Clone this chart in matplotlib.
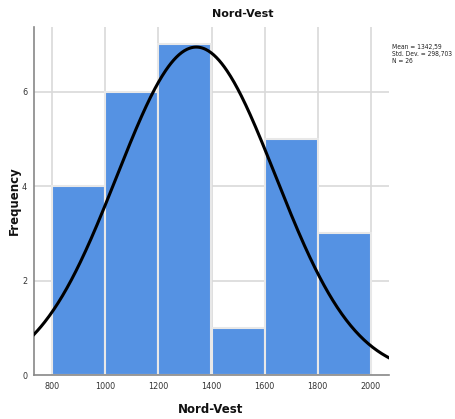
import numpy as np
import matplotlib
matplotlib.use("Agg")
import matplotlib.pyplot as plt
from matplotlib import font_manager

bin_edges = [800, 1000, 1200, 1400, 1600, 1800, 2000]
counts = [4, 6, 7, 1, 5, 3]
mean = 1342.59
std = 298.703
n = 26
xticks = [800, 1000, 1200, 1400, 1600, 1800, 2000]
yticks = [0, 2, 4, 6]

names = {f.name for f in font_manager.fontManager.ttflist}
narrow = "Liberation Sans Narrow" if "Liberation Sans Narrow" in names else "DejaVu Sans"

fig = plt.figure(figsize=(4.55, 4.19), dpi=100)
ax = fig.add_axes([34/455, 1-375/419, (389-34)/455, (375-27)/419])

xmin, xmax = 732, 2068
ax.set_xlim(xmin, xmax)
ax.set_ylim(0, 7.37)

for x in xticks:
    ax.axvline(x, color="#d9d9d9", lw=1.2, zorder=0)
for y in yticks[1:]:
    ax.axhline(y, color="#d9d9d9", lw=1.2, zorder=0)

widths = np.diff(bin_edges)
ax.bar(bin_edges[:-1], counts, width=widths, align="edge", color="#5592e3",
       edgecolor="#e8e8e8", linewidth=1.5, zorder=2)

xs = np.linspace(xmin, xmax, 400)
bw = 200
ys = n * bw / (std * np.sqrt(2*np.pi)) * np.exp(-0.5*((xs-mean)/std)**2)
ax.plot(xs, ys, color="black", lw=2.2, zorder=3)

ax.set_xticks(xticks)
ax.set_yticks(yticks)
ax.tick_params(axis="both", length=0, pad=5, colors="#333333")
for lab in ax.get_xticklabels() + ax.get_yticklabels():
    lab.set_fontfamily(narrow)
    lab.set_fontsize(6.5)
    lab.set_fontstretch("condensed")
for s in ["top", "right"]:
    ax.spines[s].set_visible(False)
for s in ["left", "bottom"]:
    ax.spines[s].set_color("#888888")
    ax.spines[s].set_linewidth(1.2)

fig.text(243/455, 1-14/419, "Nord-Vest", fontsize=8, fontweight="bold",
         ha="center", va="center", color="#111111")
fig.text(211/455, 1-409/419, "Nord-Vest", fontsize=8.5, fontweight="bold",
         ha="center", va="center", color="#111111")
fig.text(14/455, 1-201/419, "Frequency", fontsize=8.5, fontweight="bold",
         ha="center", va="center", rotation=90, color="#111111")

fig.text(392/455, 1-44/419, "Mean = 1342,59\nStd. Dev. = 298,703\nN = 26",
         fontsize=4.8, family=narrow, fontstretch="condensed", va="top", ha="left",
         color="#222222", linespacing=1.2)

fig.savefig("out.png", dpi=100)
